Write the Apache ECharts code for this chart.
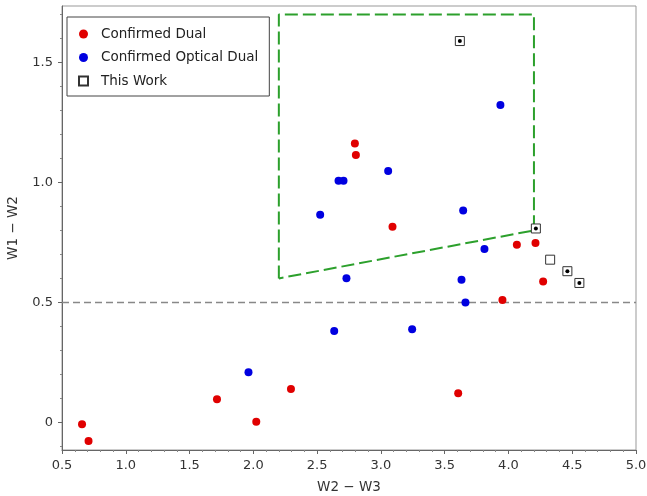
<!DOCTYPE html>
<html>
<head>
<meta charset="utf-8">
<script src="https://cdn.jsdelivr.net/npm/echarts@6/dist/echarts.min.js"></script>
<style>
html,body{margin:0;padding:0;background:#fff;}
#chart{width:647px;height:496px;}
</style>
</head>
<body>
<div id="chart"></div>
<script>
// ---- Data ----
const confirmedDual = [
  [0.657, -0.008], [0.708, -0.078], [1.715, 0.096], [2.023, 0.003], [2.295, 0.139],
  [2.796, 1.162], [2.804, 1.114], [3.091, 0.815], [4.066, 0.740], [4.212, 0.748],
  [4.272, 0.587], [3.953, 0.510], [3.606, 0.121]
];
const confirmedOpticalDual = [
  [1.962, 0.209], [2.524, 0.865], [3.937, 1.322], [2.668, 1.007], [2.707, 1.007],
  [3.057, 1.047], [3.645, 0.883], [3.812, 0.722], [2.730, 0.601], [3.632, 0.594],
  [3.663, 0.500], [2.634, 0.381], [3.245, 0.388]
];
const thisWork = [
  [3.619, 1.589], [4.215, 0.808], [4.327, 0.678], [4.462, 0.630], [4.556, 0.581]
];
const thisWorkDetected = [
  [3.619, 1.589], [4.215, 0.808], [4.462, 0.630], [4.556, 0.581]
];
const selectionRegion = [[2.2, 0.6], [2.2, 1.7], [4.2, 1.7], [4.2, 0.8], [2.2, 0.6]];
const thresholdLine = [[0.5, 0.5], [5.0, 0.5]];

const xRange = [0.5, 5.0];
const yRange = [-0.115, 1.735];
const yMajorTicks = [0, 0.5, 1.0, 1.5];
const yMinorTicks = [-0.1, 0.1, 0.2, 0.3, 0.4, 0.6, 0.7, 0.8, 0.9, 1.1, 1.2, 1.3, 1.4, 1.6, 1.7];

const xTitle = 'W2 \u2212 W3';
const yTitle = 'W1 \u2212 W2';

// ---- Chart ----
const FONT = 'DejaVu Sans';
const chart = echarts.init(document.getElementById('chart'), null, {renderer: 'canvas'});

const option = {
  backgroundColor: '#fff',
  animation: false,
  grid: {left: 62, right: 11, top: 6, bottom: 46, show: true, borderColor: '#999', borderWidth: 1,
         containLabel: false, outerBoundsMode: 'none'},
  legend: {
    left: 67, top: 17,
    orient: 'vertical',
    data: ['Confirmed Dual', 'Confirmed Optical Dual', 'This Work'],
    backgroundColor: '#fff',
    borderColor: '#444', borderWidth: 1, borderRadius: 0,
    padding: [9, 11, 7, 11],
    itemWidth: 9, itemHeight: 9, itemGap: 7.5,
    textStyle: {fontFamily: FONT, fontSize: 13.5, color: '#222', lineHeight: 16, padding: [0, 0, 0, 8]},
    selectedMode: false
  },
  xAxis: {
    type: 'value', min: xRange[0], max: xRange[1], interval: 0.5,
    name: xTitle, nameLocation: 'middle', nameGap: 30,
    nameTextStyle: {fontFamily: FONT, fontSize: 13.5, color: '#333'},
    axisLine: {show: true, onZero: false, lineStyle: {color: '#666', width: 1}},
    axisTick: {show: true, length: 4, lineStyle: {color: '#666'}},
    minorTick: {show: true, splitNumber: 5, length: 2, lineStyle: {color: '#888'}},
    axisLabel: {fontFamily: FONT, fontSize: 13, color: '#333', margin: 9,
      formatter: v => v.toFixed(1)},
    splitLine: {show: false}
  },
  yAxis: [{
    type: 'value', min: yRange[0], max: yRange[1],
    name: yTitle, nameLocation: 'middle', nameGap: 42, nameRotate: 90,
    nameTextStyle: {fontFamily: FONT, fontSize: 13.5, color: '#333'},
    axisLine: {show: true, onZero: false, lineStyle: {color: '#666', width: 1}},
    axisTick: {show: true, length: 4, lineStyle: {color: '#666'}, customValues: yMajorTicks},
    axisLabel: {fontFamily: FONT, fontSize: 13, color: '#333', margin: 9, customValues: yMajorTicks,
      formatter: v => (v === 0 ? '0' : v.toFixed(1))},
    splitLine: {show: false}
  }, {
    type: 'value', min: yRange[0], max: yRange[1], position: 'left',
    axisLine: {show: false, onZero: false},
    axisTick: {show: true, length: 2, lineStyle: {color: '#888'}, customValues: yMinorTicks},
    axisLabel: {show: false},
    splitLine: {show: false}
  }],
  series: [
    {
      name: 'threshold', type: 'line', data: thresholdLine, symbol: 'none', silent: true,
      lineStyle: {color: '#888', width: 1.5, type: [7, 4]}, z: 1
    },
    {
      name: 'region', type: 'line', data: selectionRegion, symbol: 'none', silent: true,
      lineStyle: {color: '#2ca02c', width: 2, type: [13, 5]}, z: 1
    },
    {
      name: 'Confirmed Dual', type: 'scatter', data: confirmedDual, symbol: 'circle', symbolSize: 8,
      itemStyle: {color: '#e00000', opacity: 1}, z: 3
    },
    {
      name: 'Confirmed Optical Dual', type: 'scatter', data: confirmedOpticalDual, symbol: 'circle', symbolSize: 8,
      itemStyle: {color: '#0000e0', opacity: 1}, z: 3
    },
    {
      name: 'This Work', type: 'scatter', data: thisWork, symbol: 'rect', symbolSize: 9,
      itemStyle: {color: '#fff', borderColor: '#333', borderWidth: 1, opacity: 1}, z: 4
    },
    {
      name: 'detected', type: 'scatter', data: thisWorkDetected, symbol: 'circle', symbolSize: 4,
      itemStyle: {color: '#000', opacity: 1}, z: 5
    }
  ]
};
chart.setOption(option);
</script>
</body>
</html>
